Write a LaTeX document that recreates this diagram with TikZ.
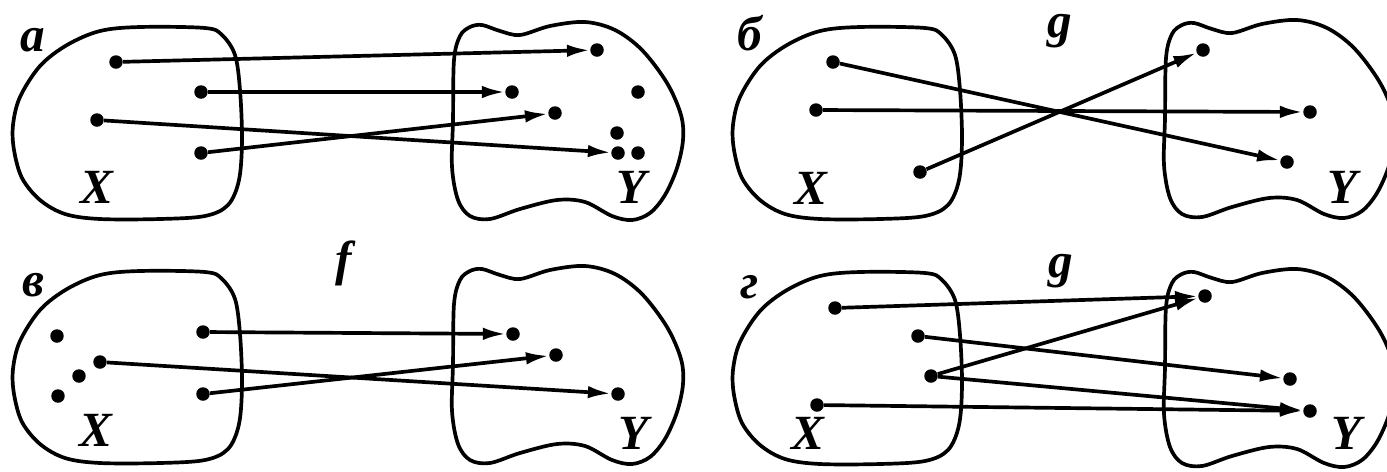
\documentclass[tikz,border=0pt]{standalone}
\usepackage{fontspec}
\setmainfont{Liberation Serif}
\usetikzlibrary{arrows.meta}

\begin{document}
\begin{tikzpicture}[x=0.02cm,y=-0.02cm,
    dot/.style={circle,fill,inner sep=0pt,minimum size=2.7mm},
    arr/.style={-{Latex[length=4.6mm,width=2.5mm]},line width=2.1pt},
    lbl/.style={font=\fontsize{28}{30}\selectfont\bfseries\itshape,inner sep=0pt},
    xblob/.pic={\draw[line width=2.1pt] plot[smooth cycle,tension=0.55] coordinates {
        (140,27) (100,31) (67,45) (40,66) (20,97) (13,125) (14,150) (22,178)
        (40,200) (65,214) (100,219) (160,219) (205,216) (228,205) (239,180)
        (242,140) (240,90) (235,55) (222,35) (205,28)};},
    yblob/.pic={\draw[line width=2.1pt] plot[smooth cycle,tension=0.55] coordinates {
        (453,120) (454,60) (460,36) (470,27) (482,25) (500,31) (520,35) (550,26)
        (585,22) (615,30) (642,50) (667,83) (681,115) (683,140) (677,168)
        (665,195) (650,213) (632,220) (612,216) (585,202) (557,200) (520,209)
        (490,219) (470,216) (458,200) (452,167)};}]
  \useasboundingbox (0,0) rectangle (1387,471);

  % panel a
  \pic at (0,0) {xblob};
  \pic at (0,0) {yblob};
  \node[lbl] (la) at (33,40) {а};
  \node[lbl] (xa) at (97,187) {X};
  \node[lbl] (ya) at (632,187) {Y};
  \node[dot] (a1) at (116,62) {};
  \node[dot] (a2) at (201,92) {};
  \node[dot] (a3) at (97,120) {};
  \node[dot] (a4) at (201,153) {};
  \node[dot] (b1) at (597,50) {};
  \node[dot] (b2) at (512,92) {};
  \node[dot] (b3) at (555,113) {};
  \node[dot] (b4) at (638,92) {};
  \node[dot] (b5) at (617,133) {};
  \node[dot] (b6) at (618,153) {};
  \node[dot] (b7) at (638,153) {};
  \draw[arr] (a1)--(b1); \draw[arr] (a2)--(b2);
  \draw[arr] (a3)--(b6); \draw[arr] (a4)--(b3);

  % panel b
  \pic at (720,0) {xblob};
  \pic at (712,-2) {yblob};
  \node[lbl] (lb) at (750,33) {б};
  \node[lbl] (gb) at (1060,31) {g};
  \node[lbl] (xb) at (811,188) {X};
  \node[lbl] (yb) at (1343,187) {Y};
  \node[dot] (c1) at (833,62) {};
  \node[dot] (c2) at (816,110) {};
  \node[dot] (c3) at (920,172) {};
  \node[dot] (d1) at (1203,50) {};
  \node[dot] (d2) at (1310,112) {};
  \node[dot] (d3) at (1287,162) {};
  \draw[arr] (c1)--(d3); \draw[arr] (c2)--(d2); \draw[arr] (c3)--(d1);

  % panel v
  \pic at (0,244) {xblob};
  \pic at (0,244) {yblob};
  \node[lbl] (lv) at (33,285) {в};
  \node[lbl] (fv) at (344,263) {f};
  \node[lbl] (xv) at (96,430) {X};
  \node[lbl] (yv) at (634,433) {Y};
  \node[dot] (e1) at (57,336) {};
  \node[dot] (e2) at (79,376) {};
  \node[dot] (e3) at (58,396) {};
  \node[dot] (e4) at (203,332) {};
  \node[dot] (e5) at (100,362) {};
  \node[dot] (e6) at (203,394) {};
  \node[dot] (k1) at (513,334) {};
  \node[dot] (k2) at (556,355) {};
  \node[dot] (k3) at (618,394) {};
  \draw[arr] (e4)--(k1); \draw[arr] (e5)--(k3); \draw[arr] (e6)--(k2);

  % panel g
  \pic at (720,245) {xblob};
  \pic at (712,247) {yblob};
  \node[lbl] (lg) at (750,287) {г};
  \node[lbl] (gg) at (1061,271) {g};
  \node[lbl] (xg) at (808,433) {X};
  \node[lbl] (yg) at (1347,433) {Y};
  \node[dot] (g1) at (835,308) {};
  \node[dot] (g2) at (918,336) {};
  \node[dot] (g3) at (931,376) {};
  \node[dot] (g4) at (817,405) {};
  \node[dot] (h1) at (1205,296) {};
  \node[dot] (h2) at (1290,379) {};
  \node[dot] (h3) at (1310,411) {};
  \draw[arr] (g1)--(h1); \draw[arr] (g3)--(h1); \draw[arr] (g2)--(h2);
  \draw[arr] (g3)--(h3); \draw[arr] (g4)--(h3);
\end{tikzpicture}
\end{document}
